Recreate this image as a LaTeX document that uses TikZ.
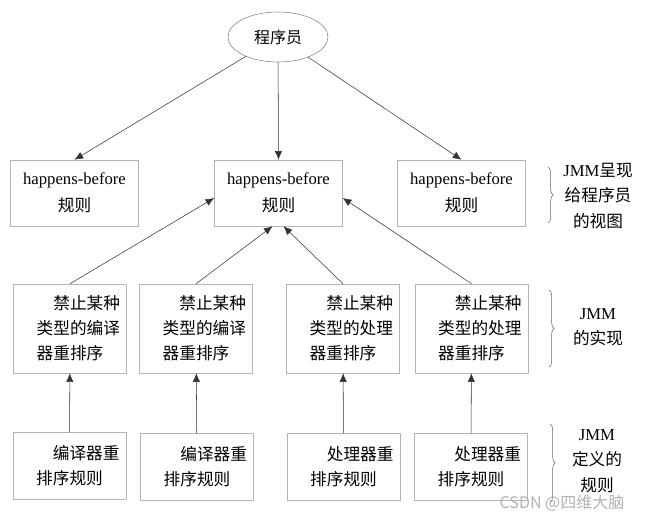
\documentclass[tikz,border=0pt]{standalone}
\usepackage{fontspec}
\setmainfont{Liberation Serif}
\newfontfamily\cjk{Noto Sans CJK SC}
\usepackage{tikz}
\usetikzlibrary{shapes.geometric, calc, decorations.pathreplacing, arrows.meta}
\definecolor{linegray}{HTML}{333333}
\definecolor{boxgray}{HTML}{B4B4B4}

\begin{document}
\begin{tikzpicture}[x=0.75pt,y=-0.75pt,
		rulebox/.style={draw=boxgray,minimum width=96pt,minimum height=49.5pt,align=center,
			font=\fontsize{12.5}{20}\selectfont},
		implbox/.style={draw=boxgray,minimum width=84.75pt,minimum height=66.75pt,text width=5em,align=left,
			font=\cjk\fontsize{12.5}{18.75}\selectfont},
		defbox/.style={implbox,minimum height=50pt},
		sidetext/.style={align=center,font=\fontsize{12.5}{19}\selectfont},
		arr/.style={draw=linegray,-{Latex[length=6.5pt,width=5.5pt]}}]
		\useasboundingbox (0,0) rectangle (646,519);
		% programmer view
		\node[ellipse,draw=gray,minimum width=75pt,minimum height=37.5pt,font=\cjk\fontsize{12}{14}\selectfont](prog) at(278,37){程序员};
		\node[rulebox](hbl) at(74.5,193){happens-before\\{\cjk 规则}};
		\node[rulebox](hbm) at(278.5,193){happens-before\\{\cjk 规则}};
		\node[rulebox](hbr) at(461.5,193){happens-before\\{\cjk 规则}};
		\draw[arr](prog)--(hbl.north);
		\draw[arr](prog)--(hbm.north);
		\draw[arr](prog)--(hbr.north);
		% JMM implementation
		\node[implbox](banc1) at(70,328.5){\hspace*{1em}禁止某种\\类型的编译\\器重排序};
		\node[implbox](banc2) at(196,328.5){\hspace*{1em}禁止某种\\类型的编译\\器重排序};
		\node[implbox](banp1) at(343,328.5){\hspace*{1em}禁止某种\\类型的处理\\器重排序};
		\node[implbox](banp2) at(471.5,328.5){\hspace*{1em}禁止某种\\类型的处理\\器重排序};
		\draw[arr](banc1.north)--($(hbm.west)+(0,5)$);
		\draw[arr](banc2.north)--($(hbm.south)+(-6,0)$);
		\draw[arr](banp1.north)--($(hbm.south)+(5,0)$);
		\draw[arr](banp2.north)--($(hbm.east)+(0,5)$);
		% JMM rules
		\node[defbox](rulc1) at(69.5,466){\hspace*{1em}编译器重\\排序规则};
		\node[defbox](rulc2) at(197,467){\hspace*{1em}编译器重\\排序规则};
		\node[defbox](rulp1) at(343.5,467){\hspace*{1em}处理器重\\排序规则};
		\node[defbox](rulp2) at(471,467){\hspace*{1em}处理器重\\排序规则};
		\draw[arr](rulc1)--(banc1);
		\draw[arr](rulc2)--(banc2);
		\draw[arr](rulp1)--(banp1);
		\draw[arr](rulp2)--(banp2);
		% braces
		\coordinate(b1t) at(548,167); \coordinate(b1b) at(548,223);
		\coordinate(b2t) at(549,290); \coordinate(b2b) at(549,367);
		\coordinate(b3t) at(550,424); \coordinate(b3b) at(550,502);
		\draw[gray!80!black,decorate,decoration={brace,amplitude=4pt}](b1t)--(b1b);
		\draw[gray!80!black,decorate,decoration={brace,amplitude=4pt}](b2t)--(b2b);
		\draw[gray!80!black,decorate,decoration={brace,amplitude=4pt}](b3t)--(b3b);
		\node[sidetext](view) at(598,196){JMM{\cjk 呈现}\\{\cjk 给程序员}\\{\cjk 的视图}};
		\node[sidetext](impl) at(598,327){JMM\\{\cjk 的实现}};
		\node[sidetext](defn) at(597,461){JMM\\{\cjk 定义的}\\{\cjk 规则}};
		\node[text=gray!60,font=\cjk\fontsize{12}{14}\selectfont](mark) at(562,503){CSDN @四维大脑};
	\end{tikzpicture}
\end{document}
